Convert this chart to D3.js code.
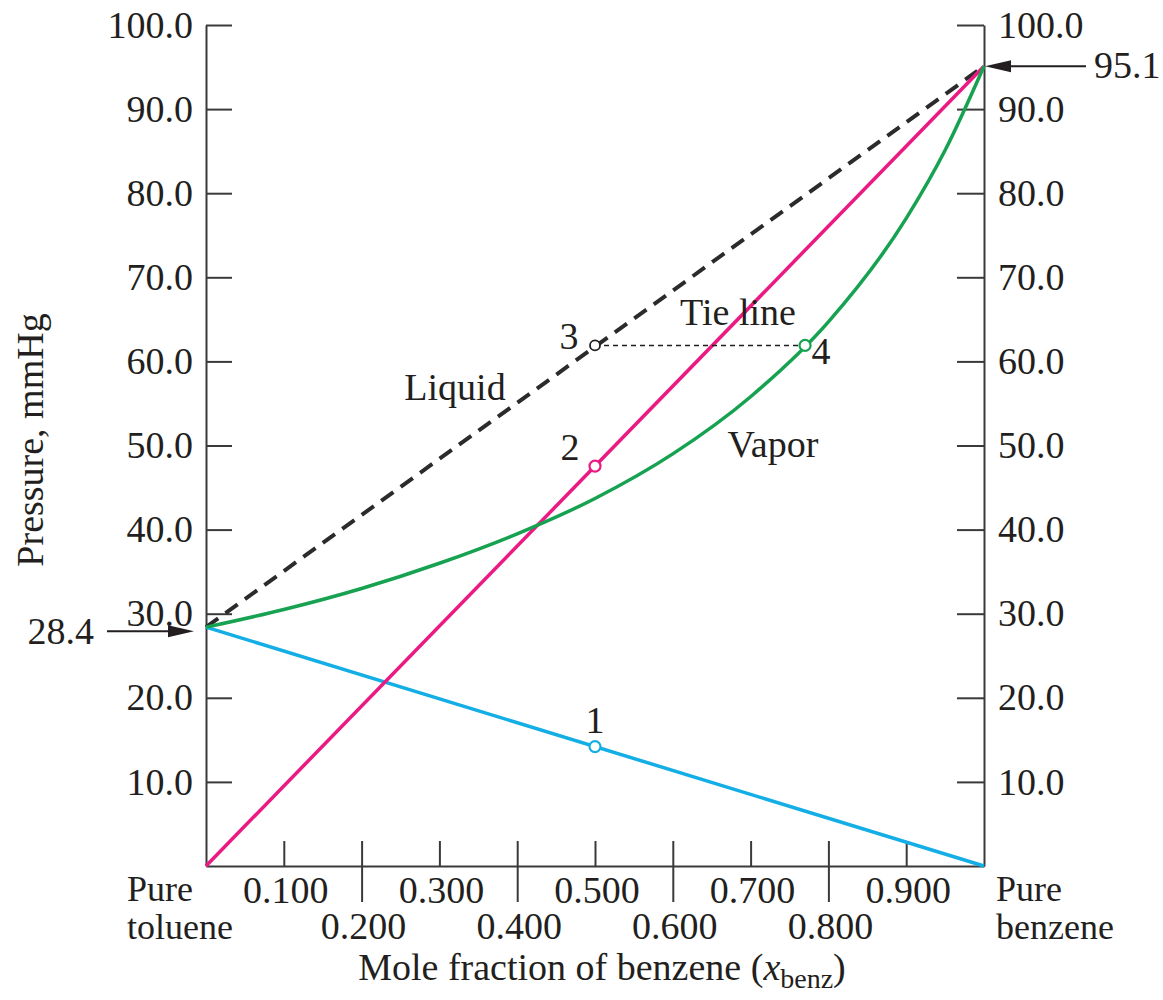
<!DOCTYPE html>
<html>
<head>
<meta charset="utf-8">
<script src="https://cdn.jsdelivr.net/npm/d3@7"></script>
<style>
  body { margin: 0; background: #fff; }
  text { font-family: "Liberation Serif", "Times New Roman", serif; fill: #231f20; }
</style>
</head>
<body>
<svg id="chart" width="1163" height="1000"></svg>
<script>
// straight lines run from pure toluene (0) to pure benzene (1)
const endsX = [0, 1];
const toluenePressure = [28.4, 0];
const benzenePressure = [0, 95.1];
const totalPressure = [28.4, 95.1];

// vapor curve
const vaporFrac = [0, 0.1, 0.2, 0.3, 0.4, 0.5, 0.6, 0.7, 0.8, 0.9, 0.95, 1];
const vaporPressure = [28.4, 30.5, 33.0, 36.0, 39.5, 43.7, 49.0, 55.8, 64.7, 77.0, 85.1, 95.1];

// numbered points
const pointLabels = ["1", "2", "3", "4"];
const pointX = [0.5, 0.5, 0.5, 0.77];
const pointP = [14.2, 47.55, 61.9, 61.9];

const yTicks = [10, 20, 30, 40, 50, 60, 70, 80, 90, 100];
const xTicks = [0.1, 0.2, 0.3, 0.4, 0.5, 0.6, 0.7, 0.8, 0.9];

const blue = "#14aee6", pink = "#ea1a82", green = "#16a251", ink = "#231f20", axisCol = "#3a3a3a";
const fs = "38px";

const svg = d3.select("#chart");
const x = d3.scaleLinear().domain([0, 1]).range([206, 984]);
const y = d3.scaleLinear().domain([0, 100]).range([866, 25]);

// left axis, ticks point inward
svg.append("g")
  .attr("transform", `translate(${x(0)},0)`)
  .call(d3.axisLeft(y).tickValues(yTicks).tickSizeInner(-26).tickSizeOuter(0).tickPadding(13).tickFormat(d3.format(".1f")))
  .call(g => g.selectAll("line, path").attr("stroke", axisCol).attr("stroke-width", 2))
  .call(g => g.selectAll("text").style("font-size", fs).attr("font-family", null).attr("fill", ink));

// right axis
svg.append("g")
  .attr("transform", `translate(${x(1)},0)`)
  .call(d3.axisRight(y).tickValues(yTicks).tickSizeInner(-27).tickSizeOuter(0).tickPadding(14).tickFormat(d3.format(".1f")))
  .call(g => g.selectAll("line, path").attr("stroke", axisCol).attr("stroke-width", 2))
  .call(g => g.selectAll("text").style("font-size", fs).attr("font-family", null).attr("fill", ink));

// bottom axis: all ticks up, even ones also reach down
const xAxisG = svg.append("g")
  .attr("transform", `translate(0,${y(0)})`)
  .call(d3.axisBottom(x).tickValues(xTicks).tickSizeInner(-25).tickSizeOuter(0).tickFormat(""))
  .call(g => g.selectAll("line, path").attr("stroke", axisCol).attr("stroke-width", 2));

xAxisG.selectAll(".tick")
  .filter((d, i) => i % 2 === 1)
  .append("line")
  .attr("y1", 0).attr("y2", 36)
  .attr("stroke", axisCol).attr("stroke-width", 2);

svg.append("g").selectAll("text")
  .data(xTicks)
  .join("text")
  .attr("x", d => x(d) + 2)
  .attr("y", (d, i) => i % 2 === 0 ? 903 : 939)
  .attr("text-anchor", "middle")
  .style("font-size", fs)
  .text(d => d3.format(".3f")(d));

// lines
const line = d3.line().x(d => x(d[0])).y(d => y(d[1]));

svg.append("path")
  .datum(endsX.map((v, i) => [v, totalPressure[i]]))
  .attr("d", line).attr("fill", "none")
  .attr("stroke", "#2b2b2b").attr("stroke-width", 4).attr("stroke-dasharray", "15,9");

svg.append("path")
  .datum(endsX.map((v, i) => [v, toluenePressure[i]]))
  .attr("d", line).attr("fill", "none").attr("stroke", blue).attr("stroke-width", 3.5);

svg.append("path")
  .datum(endsX.map((v, i) => [v, benzenePressure[i]]))
  .attr("d", line).attr("fill", "none").attr("stroke", pink).attr("stroke-width", 3.5);

svg.append("path")
  .datum(vaporFrac.map((v, i) => [v, vaporPressure[i]]))
  .attr("d", line.curve(d3.curveMonotoneX)).attr("fill", "none").attr("stroke", green).attr("stroke-width", 3.5);

// tie line between points 3 and 4
svg.append("line")
  .attr("x1", x(pointX[2])).attr("y1", y(pointP[2]))
  .attr("x2", x(pointX[3])).attr("y2", y(pointP[3]))
  .attr("stroke", ink).attr("stroke-width", 1.5).attr("stroke-dasharray", "5,4");

const pointColors = [blue, pink, ink, green];
svg.append("g").selectAll("circle")
  .data(pointLabels)
  .join("circle")
  .attr("cx", (d, i) => x(pointX[i]))
  .attr("cy", (d, i) => y(pointP[i]))
  .attr("r", (d, i) => i === 2 ? 5 : 5.5)
  .attr("fill", "#fff")
  .attr("stroke", (d, i) => pointColors[i])
  .attr("stroke-width", (d, i) => i === 2 ? 1.8 : 2.2);

// point numbers: offsets from each point
const labelDx = [0, -25, -26, 16];
const labelDy = [-14, -6, 4, 19];
svg.append("g").selectAll("text")
  .data(pointLabels)
  .join("text")
  .attr("x", (d, i) => x(pointX[i]) + labelDx[i])
  .attr("y", (d, i) => y(pointP[i]) + labelDy[i])
  .attr("text-anchor", "middle")
  .style("font-size", fs)
  .text(d => d);

// curve names
function note(tx, ty, str, anchor) {
  return svg.append("text").attr("x", tx).attr("y", ty)
    .attr("text-anchor", anchor || "start").style("font-size", fs).text(str);
}
note(455, 400, "Liquid", "middle");
note(773, 457, "Vapor", "middle");
note(738, 325, "Tie line", "middle");

// two-line end labels
function twoLine(tx, ty, first, second) {
  svg.append("text").attr("x", tx).attr("y", ty).style("font-size", "36px").text(first);
  svg.append("text").attr("x", tx).attr("y", ty + 38).style("font-size", "36px").text(second);
}
twoLine(127, 901, "Pure", "toluene");
twoLine(996, 901, "Pure", "benzene");

// pure-component pressure arrows
function arrow(x1, x2, ay) {
  const dir = x2 > x1 ? 1 : -1;
  svg.append("line")
    .attr("x1", x1).attr("y1", ay).attr("x2", x2 - dir * 20).attr("y2", ay)
    .attr("stroke", ink).attr("stroke-width", 2);
  svg.append("path")
    .attr("d", `M${x2},${ay} L${x2 - dir * 26},${ay - 6} L${x2 - dir * 26},${ay + 6} Z`)
    .attr("fill", ink);
}
arrow(107, 194, y(toluenePressure[0]) + 4);
arrow(1086, x(1) + 1, y(benzenePressure[1]));
note(94, y(toluenePressure[0]) + 17, "28.4", "end");
note(1094, y(benzenePressure[1]) + 12, "95.1");

// axis titles
svg.append("text")
  .attr("transform", `translate(43,${440}) rotate(-90)`)
  .attr("text-anchor", "middle")
  .style("font-size", fs)
  .text("Pressure, mmHg");

const xt = svg.append("text")
  .attr("x", 602).attr("y", 980)
  .attr("text-anchor", "middle")
  .style("font-size", fs);
xt.append("tspan").text("Mole fraction of benzene (");
xt.append("tspan").style("font-style", "italic").text("x");
xt.append("tspan").attr("dy", 8).style("font-size", "28px").text("benz");
xt.append("tspan").attr("dy", -8).text(")");
</script>
</body>
</html>
